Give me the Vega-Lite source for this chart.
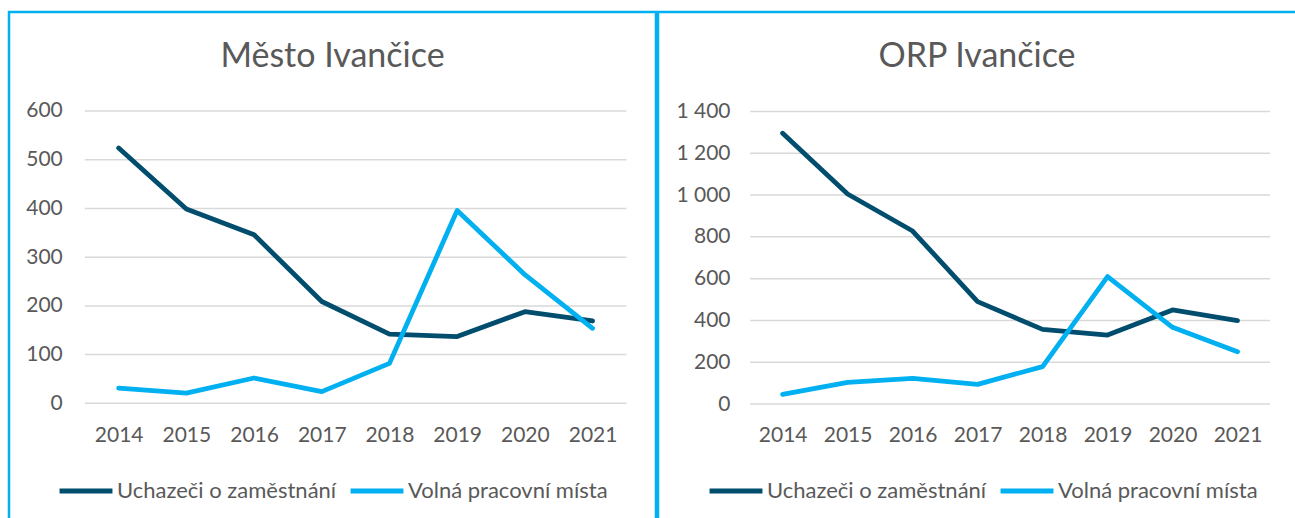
{
  "$schema": "https://vega.github.io/schema/vega-lite/v6.json",
  "padding": {"left": 7, "top": 10, "right": 0, "bottom": 0},
  "background": "white",
  "spacing": -4,
  "config": {
    "locale": {"number": {"decimal": ",", "thousands": " ", "grouping": [3], "currency": ["", " Kč"]}},
    "font": "Lato"
  },
  "resolve": {"scale": {"color": "independent"}, "legend": {"color": "independent"}},
  "datasets": {
    "mesto": [
      {"rok": 2014, "serie": "Uchazeči o zaměstnání", "pocet": 524},
      {"rok": 2015, "serie": "Uchazeči o zaměstnání", "pocet": 399},
      {"rok": 2016, "serie": "Uchazeči o zaměstnání", "pocet": 346},
      {"rok": 2017, "serie": "Uchazeči o zaměstnání", "pocet": 209},
      {"rok": 2018, "serie": "Uchazeči o zaměstnání", "pocet": 142},
      {"rok": 2019, "serie": "Uchazeči o zaměstnání", "pocet": 137},
      {"rok": 2020, "serie": "Uchazeči o zaměstnání", "pocet": 188},
      {"rok": 2021, "serie": "Uchazeči o zaměstnání", "pocet": 169},
      {"rok": 2014, "serie": "Volná pracovní místa", "pocet": 31},
      {"rok": 2015, "serie": "Volná pracovní místa", "pocet": 21},
      {"rok": 2016, "serie": "Volná pracovní místa", "pocet": 52},
      {"rok": 2017, "serie": "Volná pracovní místa", "pocet": 24},
      {"rok": 2018, "serie": "Volná pracovní místa", "pocet": 82},
      {"rok": 2019, "serie": "Volná pracovní místa", "pocet": 396},
      {"rok": 2020, "serie": "Volná pracovní místa", "pocet": 264},
      {"rok": 2021, "serie": "Volná pracovní místa", "pocet": 154}
    ],
    "orp": [
      {"rok": 2014, "serie": "Uchazeči o zaměstnání", "pocet": 1296},
      {"rok": 2015, "serie": "Uchazeči o zaměstnání", "pocet": 1005},
      {"rok": 2016, "serie": "Uchazeči o zaměstnání", "pocet": 828},
      {"rok": 2017, "serie": "Uchazeči o zaměstnání", "pocet": 490},
      {"rok": 2018, "serie": "Uchazeči o zaměstnání", "pocet": 357},
      {"rok": 2019, "serie": "Uchazeči o zaměstnání", "pocet": 330},
      {"rok": 2020, "serie": "Uchazeči o zaměstnání", "pocet": 450},
      {"rok": 2021, "serie": "Uchazeči o zaměstnání", "pocet": 399},
      {"rok": 2014, "serie": "Volná pracovní místa", "pocet": 46},
      {"rok": 2015, "serie": "Volná pracovní místa", "pocet": 104},
      {"rok": 2016, "serie": "Volná pracovní místa", "pocet": 123},
      {"rok": 2017, "serie": "Volná pracovní místa", "pocet": 94},
      {"rok": 2018, "serie": "Volná pracovní místa", "pocet": 179},
      {"rok": 2019, "serie": "Volná pracovní místa", "pocet": 610},
      {"rok": 2020, "serie": "Volná pracovní místa", "pocet": 367},
      {"rok": 2021, "serie": "Volná pracovní místa", "pocet": 250}
    ],
    "gridM": [{"v": 0}, {"v": 100}, {"v": 200}, {"v": 300}, {"v": 400}, {"v": 500}, {"v": 600}],
    "gridO": [{"v": 0}, {"v": 200}, {"v": 400}, {"v": 600}, {"v": 800}, {"v": 1000}, {"v": 1200}, {"v": 1400}]
  },
  "hconcat": [
    {
      "width": 647,
      "height": 506,
      "view": {"stroke": "#00B0F0", "strokeWidth": 2.5, "strokeDash": [1153, 647, 506]},
      "title": {"text": "Město Ivančice", "fontSize": 34, "font": "Lato", "fontWeight": "normal", "color": "#595959", "anchor": "middle", "frame": "group", "offset": -62},
      "layer": [
        {
          "data": {"name": "gridM"},
          "mark": {"type": "rule", "color": "#D9D9D9", "strokeWidth": 1.5},
          "encoding": {
            "y": {"field": "v", "type": "quantitative", "scale": {"domain": [-235.4, 803.2], "nice": false, "zero": false},
              "axis": {"title": null, "values": [0, 100, 200, 300, 400, 500, 600], "format": ",d", "grid": false, "domain": false, "ticks": false, "tickSize": 0, "labelPadding": 0, "offset": -53.3, "labelFontSize": 21, "labelFont": "Lato", "labelColor": "#595959", "minExtent": 0, "maxExtent": 0, "labelFlush": false, "labelOverlap": false, "labelBound": false}},
            "x": {"datum": 2013.5, "type": "quantitative", "scale": {"domain": [2012.38, 2021.937], "nice": false, "zero": false},
              "axis": {"title": null, "values": [2014, 2015, 2016, 2017, 2018, 2019, 2020, 2021], "format": "d", "grid": false, "domain": false, "ticks": false, "tickSize": 0, "labelPadding": 0, "labelBaseline": "middle", "offset": -83, "labelFontSize": 21, "labelFont": "Lato", "labelColor": "#595959", "minExtent": 0, "maxExtent": 0, "labelFlush": false, "labelOverlap": false, "labelBound": false}},
            "x2": {"datum": 2021.5}
          }
        },
        {
          "data": {"name": "mesto"},
          "mark": {"type": "line", "strokeWidth": 4.8, "strokeCap": "round", "strokeJoin": "round"},
          "encoding": {
            "x": {"field": "rok", "type": "quantitative", "scale": {"domain": [2012.38, 2021.937], "nice": false, "zero": false},
              "axis": {"title": null, "values": [2014, 2015, 2016, 2017, 2018, 2019, 2020, 2021], "format": "d", "grid": false, "domain": false, "ticks": false, "tickSize": 0, "labelPadding": 0, "labelBaseline": "middle", "offset": -83, "labelFontSize": 21, "labelFont": "Lato", "labelColor": "#595959", "minExtent": 0, "maxExtent": 0, "labelFlush": false, "labelOverlap": false, "labelBound": false}},
            "y": {"field": "pocet", "type": "quantitative", "scale": {"domain": [-235.4, 803.2], "nice": false, "zero": false},
              "axis": {"title": null, "values": [0, 100, 200, 300, 400, 500, 600], "format": ",d", "grid": false, "domain": false, "ticks": false, "tickSize": 0, "labelPadding": 0, "offset": -53.3, "labelFontSize": 21, "labelFont": "Lato", "labelColor": "#595959", "minExtent": 0, "maxExtent": 0, "labelFlush": false, "labelOverlap": false, "labelBound": false}},
            "color": {"field": "serie", "type": "nominal",
              "scale": {"domain": ["Uchazeči o zaměstnání", "Volná pracovní místa"], "range": ["#004D6E", "#00B0F0"]},
              "legend": {"title": null, "orient": "none", "legendX": 48, "legendY": 450, "direction": "horizontal", "symbolType": "stroke", "symbolStrokeWidth": 5, "symbolSize": 2800, "labelFontSize": 22, "labelFont": "Lato", "labelColor": "#595959", "labelOffset": 2, "columnPadding": 3, "labelLimit": 400}}
          }
        }
      ]
    },
    {
      "width": 638,
      "height": 506,
      "view": {"stroke": "#00B0F0", "strokeWidth": 2.5, "strokeDash": [638, 1144, 506]},
      "title": {"text": "ORP Ivančice", "fontSize": 34, "font": "Lato", "fontWeight": "normal", "color": "#595959", "anchor": "middle", "frame": "group", "offset": -62},
      "layer": [
        {
          "data": {"name": "gridO"},
          "mark": {"type": "rule", "color": "#D9D9D9", "strokeWidth": 1.5},
          "encoding": {
            "y": {"field": "v", "type": "quantitative", "scale": {"domain": [-545.6, 1876.2], "nice": false, "zero": false},
              "axis": {"title": null, "values": [0, 200, 400, 600, 800, 1000, 1200, 1400], "format": ",d", "grid": false, "domain": false, "ticks": false, "tickSize": 0, "labelPadding": 0, "offset": -72, "labelFontSize": 21, "labelFont": "Lato", "labelColor": "#595959", "minExtent": 0, "maxExtent": 0, "labelFlush": false, "labelOverlap": false, "labelBound": false}},
            "x": {"datum": 2013.5, "type": "quantitative", "scale": {"domain": [2012.082, 2021.9], "nice": false, "zero": false},
              "axis": {"title": null, "values": [2014, 2015, 2016, 2017, 2018, 2019, 2020, 2021], "format": "d", "grid": false, "domain": false, "ticks": false, "tickSize": 0, "labelPadding": 0, "labelBaseline": "middle", "offset": -83, "labelFontSize": 21, "labelFont": "Lato", "labelColor": "#595959", "minExtent": 0, "maxExtent": 0, "labelFlush": false, "labelOverlap": false, "labelBound": false}},
            "x2": {"datum": 2021.5}
          }
        },
        {
          "data": {"name": "orp"},
          "mark": {"type": "line", "strokeWidth": 4.8, "strokeCap": "round", "strokeJoin": "round"},
          "encoding": {
            "x": {"field": "rok", "type": "quantitative", "scale": {"domain": [2012.082, 2021.9], "nice": false, "zero": false},
              "axis": {"title": null, "values": [2014, 2015, 2016, 2017, 2018, 2019, 2020, 2021], "format": "d", "grid": false, "domain": false, "ticks": false, "tickSize": 0, "labelPadding": 0, "labelBaseline": "middle", "offset": -83, "labelFontSize": 21, "labelFont": "Lato", "labelColor": "#595959", "minExtent": 0, "maxExtent": 0, "labelFlush": false, "labelOverlap": false, "labelBound": false}},
            "y": {"field": "pocet", "type": "quantitative", "scale": {"domain": [-545.6, 1876.2], "nice": false, "zero": false},
              "axis": {"title": null, "values": [0, 200, 400, 600, 800, 1000, 1200, 1400], "format": ",d", "grid": false, "domain": false, "ticks": false, "tickSize": 0, "labelPadding": 0, "offset": -72, "labelFontSize": 21, "labelFont": "Lato", "labelColor": "#595959", "minExtent": 0, "maxExtent": 0, "labelFlush": false, "labelOverlap": false, "labelBound": false}},
            "color": {"field": "serie", "type": "nominal",
              "scale": {"domain": ["Uchazeči o zaměstnání", "Volná pracovní místa"], "range": ["#004D6E", "#00B0F0"]},
              "legend": {"title": null, "orient": "none", "legendX": 49, "legendY": 450, "direction": "horizontal", "symbolType": "stroke", "symbolStrokeWidth": 5, "symbolSize": 2800, "labelFontSize": 22, "labelFont": "Lato", "labelColor": "#595959", "labelOffset": 2, "columnPadding": 3, "labelLimit": 400}}
          }
        }
      ]
    }
  ]
}
